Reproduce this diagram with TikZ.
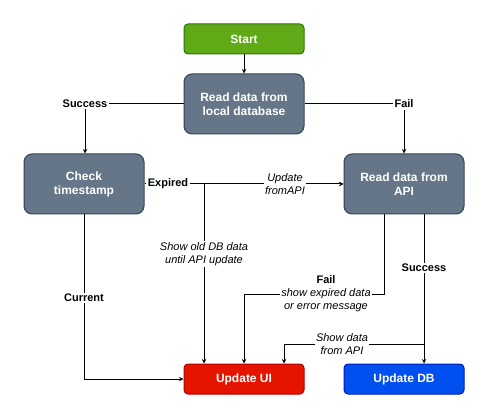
\documentclass[tikz,border=0pt]{standalone}
\usepackage{fontspec}
\setmainfont{Liberation Sans}
\usepackage{tikz}
\usetikzlibrary{arrows}
\usetikzlibrary{positioning}
\definecolor{greenfill}{HTML}{60A917}
\definecolor{greenline}{HTML}{2D7600}
\definecolor{slatefill}{HTML}{647687}
\definecolor{slateline}{HTML}{314354}
\definecolor{redfill}{HTML}{E51400}
\definecolor{redline}{HTML}{B20000}
\definecolor{bluefill}{HTML}{0050EF}
\definecolor{blueline}{HTML}{001DBC}
\tikzstyle{box}=[rectangle,rounded corners=4pt,minimum width=120pt,minimum height=30pt,inner sep=0pt,text=white,align=center,font=\fontsize{12}{14}\selectfont\bfseries]
\tikzstyle{begin}=[box,draw=greenline,fill=greenfill]
\tikzstyle{task}=[box,rounded corners=8pt,minimum height=60pt,draw=slateline,fill=slatefill]
\tikzstyle{uibox}=[box,draw=redline,fill=redfill]
\tikzstyle{dbbox}=[box,draw=blueline,fill=bluefill]
\tikzstyle{lbl}=[fill=white,inner sep=1pt,align=center,font=\fontsize{11}{13}\selectfont\itshape]
\tikzstyle{lblb}=[lbl,font=\fontsize{11}{13}\selectfont\bfseries]
\tikzstyle{arrow}=[->,>=stealth]
\tikzset{every picture/.style={
    line width=1pt
  }
}
\begin{document}
\begin{tikzpicture}[x=1pt,y=-1pt]
          \useasboundingbox (0,0) rectangle (489,419);
          \node[begin] at (244,39) (start) {Start};
          \node[task] at (244,104) (local) {Read data from\\local database};
          \node[task] at (84,184) (check) {Check\\timestamp};
          \node[task] at (404,184) (api) {Read data from\\API};
          \node[uibox] at (244,379) (ui) {Update UI};
          \node[dbbox] at (404,379) (db) {Update DB};
          % labels on the connectors
          \node[lblb] at (85,104) (okdb) {Success};
          \node[lblb] at (404,104) (faildb) {Fail};
          \node[lblb] at (168,184) (expired) {Expired};
          \node[lbl] at (285,184) (fetch) {Update\\fromAPI};
          \node[lbl] at (204,254) (old) {Show old DB data\\until API update};
          \node[lblb] at (84,298) (current) {Current};
          \node[lbl] at (326,294) (failapi) {{\upshape\bfseries Fail}\\show expired data\\or error message};
          \node[lblb] at (424,268) (okapi) {Success};
          \node[lbl] at (342,344) (showapi) {Show data\\from API};
          % bends
          \coordinate (split) at (204,184);
          \coordinate (failturn) at (384,294);
          \coordinate (okturn) at (424,344);
          \draw [arrow] (start) -- (local);
          \draw (local) -- (okdb);
          \draw [arrow] (okdb) -- (okdb |- check.north);
          \draw (local) -- (faildb);
          \draw [arrow] (faildb) -- (api);
          \draw (check) -- (expired);
          \draw (expired) -- (fetch);
          \draw [arrow] (fetch) -- (api);
          \draw (split) -- (old);
          \draw [arrow] (old) -- (old |- ui.north);
          \draw (check) -- (current);
          \draw [arrow] (current) |- (ui);
          \draw (api.south -| failturn) -- (failturn) -- (failapi);
          \draw [arrow] (failapi) -| (ui.north);
          \draw (api.south -| okapi) -- (okapi);
          \draw [arrow] (okapi) -- (okapi |- db.north);
          \draw (okturn) -- (showapi);
          \draw [arrow] (showapi) -| ([xshift=40pt]ui.north);
        \end{tikzpicture}
\end{document}
